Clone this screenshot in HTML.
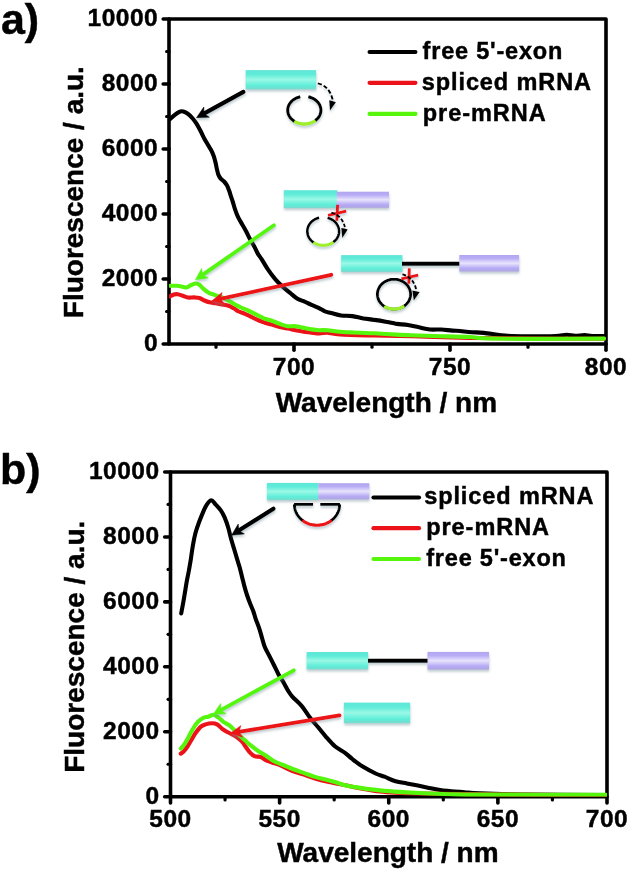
<!DOCTYPE html>
<html><head><meta charset="utf-8"><style>
html,body{margin:0;padding:0;background:#fff;}
svg{display:block;will-change:transform;}
text{font-family:"Liberation Sans", sans-serif;font-weight:bold;fill:#000;stroke:#000;stroke-width:0.45px;}
.tk{font-size:24.5px;letter-spacing:0.5px;}
.ti{font-size:28px;}
.pl{font-size:43px;}
.lg{font-size:23.5px;letter-spacing:0.9px;}
</style></head><body>
<svg width="629" height="871" viewBox="0 0 629 871">
<defs>
<linearGradient id="gc" x1="0" y1="0" x2="0" y2="1">
<stop offset="0" stop-color="#60e6d8"/><stop offset="0.22" stop-color="#5eecd8"/><stop offset="0.5" stop-color="#9af8e6"/><stop offset="0.8" stop-color="#5eeed8"/><stop offset="1" stop-color="#78dacf"/>
</linearGradient>
<linearGradient id="gp" x1="0" y1="0" x2="0" y2="1">
<stop offset="0" stop-color="#b0a6ee"/><stop offset="0.2" stop-color="#b8acf6"/><stop offset="0.5" stop-color="#e8e4fc"/><stop offset="0.8" stop-color="#b6aaf6"/><stop offset="1" stop-color="#aca6e2"/>
</linearGradient>
<filter id="sh" x="-20%" y="-20%" width="140%" height="160%">
<feDropShadow dx="0.3" dy="2.2" stdDeviation="1.2" flood-color="#6a8690" flood-opacity="0.42"/>
</filter>
<clipPath id="clipA"><rect x="169" y="19" width="437" height="325"/></clipPath>
<clipPath id="clipB"><rect x="170.5" y="472" width="436.5" height="324.7"/></clipPath>
</defs>
<rect width="629" height="871" fill="#fff"/>
<path d="M169,19 H606 V344 H169 Z" fill="none" stroke="#000" stroke-width="3.6" stroke-linejoin="round"/>
<line x1="163.2" y1="344.00" x2="169" y2="344.00" stroke="#000" stroke-width="3.6" stroke-linecap="round"/>
<line x1="163.2" y1="279.00" x2="169" y2="279.00" stroke="#000" stroke-width="3.6" stroke-linecap="round"/>
<line x1="163.2" y1="214.00" x2="169" y2="214.00" stroke="#000" stroke-width="3.6" stroke-linecap="round"/>
<line x1="163.2" y1="149.00" x2="169" y2="149.00" stroke="#000" stroke-width="3.6" stroke-linecap="round"/>
<line x1="163.2" y1="84.00" x2="169" y2="84.00" stroke="#000" stroke-width="3.6" stroke-linecap="round"/>
<line x1="163.2" y1="19.00" x2="169" y2="19.00" stroke="#000" stroke-width="3.6" stroke-linecap="round"/>
<line x1="166.6" y1="311.50" x2="169" y2="311.50" stroke="#000" stroke-width="3.2" stroke-linecap="round"/>
<line x1="166.6" y1="246.50" x2="169" y2="246.50" stroke="#000" stroke-width="3.2" stroke-linecap="round"/>
<line x1="166.6" y1="181.50" x2="169" y2="181.50" stroke="#000" stroke-width="3.2" stroke-linecap="round"/>
<line x1="166.6" y1="116.50" x2="169" y2="116.50" stroke="#000" stroke-width="3.2" stroke-linecap="round"/>
<line x1="166.6" y1="51.50" x2="169" y2="51.50" stroke="#000" stroke-width="3.2" stroke-linecap="round"/>
<line x1="294.00" y1="344" x2="294.00" y2="350.3" stroke="#000" stroke-width="3.6" stroke-linecap="round"/>
<line x1="450.00" y1="344" x2="450.00" y2="350.3" stroke="#000" stroke-width="3.6" stroke-linecap="round"/>
<line x1="606.00" y1="344" x2="606.00" y2="350.3" stroke="#000" stroke-width="3.6" stroke-linecap="round"/>
<line x1="216.00" y1="344" x2="216.00" y2="347.2" stroke="#000" stroke-width="3.2" stroke-linecap="round"/>
<line x1="372.00" y1="344" x2="372.00" y2="347.2" stroke="#000" stroke-width="3.2" stroke-linecap="round"/>
<line x1="528.00" y1="344" x2="528.00" y2="347.2" stroke="#000" stroke-width="3.2" stroke-linecap="round"/>
<text x="158.2" y="351.40" text-anchor="end" class="tk">0</text>
<text x="158.2" y="286.40" text-anchor="end" class="tk">2000</text>
<text x="158.2" y="221.40" text-anchor="end" class="tk">4000</text>
<text x="158.2" y="156.40" text-anchor="end" class="tk">6000</text>
<text x="158.2" y="91.40" text-anchor="end" class="tk">8000</text>
<text x="158.2" y="26.40" text-anchor="end" class="tk">10000</text>
<text x="294.00" y="374.7" text-anchor="middle" class="tk">700</text>
<text x="450.00" y="374.7" text-anchor="middle" class="tk">750</text>
<text x="606.00" y="374.7" text-anchor="middle" class="tk">800</text>
<text x="275.7" y="412" class="ti">Wavelength / nm</text>
<text transform="translate(82.9,318.2) rotate(-90)" class="ti">Fluorescence / a.u.</text>
<text x="0.9" y="33.5" class="pl">a)</text>
<line x1="369.6" y1="52" x2="415.4" y2="52" stroke="#000" stroke-width="4.2" stroke-linecap="round"/>
<text x="422.6" y="58.7" class="lg" style="letter-spacing:0.8px">free 5'-exon</text>
<line x1="369.6" y1="82.8" x2="415.4" y2="82.8" stroke="#ec1219" stroke-width="4.2" stroke-linecap="round"/>
<text x="421.8" y="89.7" class="lg" style="letter-spacing:0.9px">spliced mRNA</text>
<line x1="369.6" y1="113.9" x2="415.4" y2="113.9" stroke="#55f60c" stroke-width="4.2" stroke-linecap="round"/>
<text x="422.8" y="120.8" class="lg" style="letter-spacing:0.95px">pre-mRNA</text>
<path d="M170.5,472 H607 V796.7 H170.5 Z" fill="none" stroke="#000" stroke-width="3.6" stroke-linejoin="round"/>
<line x1="164.7" y1="796.70" x2="170.5" y2="796.70" stroke="#000" stroke-width="3.6" stroke-linecap="round"/>
<line x1="164.7" y1="731.76" x2="170.5" y2="731.76" stroke="#000" stroke-width="3.6" stroke-linecap="round"/>
<line x1="164.7" y1="666.82" x2="170.5" y2="666.82" stroke="#000" stroke-width="3.6" stroke-linecap="round"/>
<line x1="164.7" y1="601.88" x2="170.5" y2="601.88" stroke="#000" stroke-width="3.6" stroke-linecap="round"/>
<line x1="164.7" y1="536.94" x2="170.5" y2="536.94" stroke="#000" stroke-width="3.6" stroke-linecap="round"/>
<line x1="164.7" y1="472.00" x2="170.5" y2="472.00" stroke="#000" stroke-width="3.6" stroke-linecap="round"/>
<line x1="168.1" y1="764.23" x2="170.5" y2="764.23" stroke="#000" stroke-width="3.2" stroke-linecap="round"/>
<line x1="168.1" y1="699.29" x2="170.5" y2="699.29" stroke="#000" stroke-width="3.2" stroke-linecap="round"/>
<line x1="168.1" y1="634.35" x2="170.5" y2="634.35" stroke="#000" stroke-width="3.2" stroke-linecap="round"/>
<line x1="168.1" y1="569.41" x2="170.5" y2="569.41" stroke="#000" stroke-width="3.2" stroke-linecap="round"/>
<line x1="168.1" y1="504.47" x2="170.5" y2="504.47" stroke="#000" stroke-width="3.2" stroke-linecap="round"/>
<line x1="170.50" y1="796.7" x2="170.50" y2="803.0" stroke="#000" stroke-width="3.6" stroke-linecap="round"/>
<line x1="279.62" y1="796.7" x2="279.62" y2="803.0" stroke="#000" stroke-width="3.6" stroke-linecap="round"/>
<line x1="388.75" y1="796.7" x2="388.75" y2="803.0" stroke="#000" stroke-width="3.6" stroke-linecap="round"/>
<line x1="497.88" y1="796.7" x2="497.88" y2="803.0" stroke="#000" stroke-width="3.6" stroke-linecap="round"/>
<line x1="607.00" y1="796.7" x2="607.00" y2="803.0" stroke="#000" stroke-width="3.6" stroke-linecap="round"/>
<line x1="225.06" y1="796.7" x2="225.06" y2="799.9000000000001" stroke="#000" stroke-width="3.2" stroke-linecap="round"/>
<line x1="334.19" y1="796.7" x2="334.19" y2="799.9000000000001" stroke="#000" stroke-width="3.2" stroke-linecap="round"/>
<line x1="443.31" y1="796.7" x2="443.31" y2="799.9000000000001" stroke="#000" stroke-width="3.2" stroke-linecap="round"/>
<line x1="552.44" y1="796.7" x2="552.44" y2="799.9000000000001" stroke="#000" stroke-width="3.2" stroke-linecap="round"/>
<text x="159.6" y="803.70" text-anchor="end" class="tk">0</text>
<text x="159.6" y="738.76" text-anchor="end" class="tk">2000</text>
<text x="159.6" y="673.82" text-anchor="end" class="tk">4000</text>
<text x="159.6" y="608.88" text-anchor="end" class="tk">6000</text>
<text x="159.6" y="543.94" text-anchor="end" class="tk">8000</text>
<text x="159.6" y="479.00" text-anchor="end" class="tk">10000</text>
<text x="170.50" y="827" text-anchor="middle" class="tk">500</text>
<text x="279.62" y="827" text-anchor="middle" class="tk">550</text>
<text x="388.75" y="827" text-anchor="middle" class="tk">600</text>
<text x="497.88" y="827" text-anchor="middle" class="tk">650</text>
<text x="607.00" y="827" text-anchor="middle" class="tk">700</text>
<text x="277.2" y="862.3" class="ti">Wavelength / nm</text>
<text transform="translate(84,772.8) rotate(-90)" class="ti">Fluorescence / a.u.</text>
<text x="-0.1" y="483.5" class="pl">b)</text>
<line x1="373.5" y1="497.5" x2="419" y2="497.5" stroke="#000" stroke-width="4.2" stroke-linecap="round"/>
<text x="424.2" y="504" class="lg" style="letter-spacing:0.9px">spliced mRNA</text>
<line x1="373.5" y1="528.2" x2="419" y2="528.2" stroke="#ec1219" stroke-width="4.2" stroke-linecap="round"/>
<text x="426.2" y="535.1" class="lg" style="letter-spacing:0.95px">pre-mRNA</text>
<line x1="373.5" y1="559" x2="419" y2="559" stroke="#55f60c" stroke-width="4.2" stroke-linecap="round"/>
<text x="426.2" y="566.2" class="lg" style="letter-spacing:0.8px">free 5'-exon</text>
<g clip-path="url(#clipA)">
<path d="M169.8,119.2 C170.6,118.5 173.1,116.2 174.5,115.1 C175.9,113.9 177.2,112.9 178.4,112.3 C179.6,111.7 180.6,111.2 181.7,111.2 C182.8,111.2 183.8,111.5 185.0,112.1 C186.2,112.7 187.6,113.5 188.9,114.6 C190.2,115.7 191.4,117.0 192.7,118.5 C194.0,120.0 195.2,121.7 196.5,123.7 C197.8,125.7 199.0,128.1 200.3,130.5 C201.6,132.9 202.8,135.8 204.1,138.2 C205.4,140.6 206.8,142.9 207.9,144.8 C209.0,146.7 209.9,147.8 210.8,149.6 C211.8,151.4 212.8,153.6 213.6,155.7 C214.4,157.8 214.9,160.2 215.5,162.4 C216.1,164.6 216.4,167.0 216.9,169.1 C217.4,171.2 217.8,173.2 218.4,174.8 C219.0,176.4 219.8,177.5 220.7,178.6 C221.6,179.7 223.1,180.4 224.1,181.5 C225.1,182.6 226.1,183.9 226.9,185.3 C227.7,186.7 228.2,188.3 228.9,190.1 C229.6,191.8 230.2,193.9 230.8,195.8 C231.4,197.7 232.0,199.4 232.7,201.5 C233.4,203.6 233.9,206.0 234.8,208.6 C235.7,211.2 236.8,214.5 238.1,217.2 C239.4,219.9 241.1,222.4 242.4,224.8 C243.8,227.2 244.9,229.1 246.2,231.5 C247.5,233.9 248.7,236.7 250.0,239.1 C251.3,241.5 252.6,243.4 253.9,245.8 C255.2,248.2 256.4,251.2 257.7,253.4 C258.9,255.6 259.7,256.3 261.4,258.9 C263.1,261.5 265.4,265.7 267.7,269.1 C270.0,272.5 272.8,276.3 275.4,279.3 C277.9,282.3 280.5,284.6 283.0,286.9 C285.5,289.2 288.2,291.3 290.6,293.3 C293.0,295.3 295.2,297.4 297.5,298.8 C299.8,300.2 302.4,300.7 304.6,301.7 C306.9,302.7 308.7,303.7 311.0,304.7 C313.3,305.7 316.3,306.8 318.6,307.9 C320.9,309.0 322.9,310.5 325.0,311.4 C327.1,312.2 328.6,312.3 331.3,313.0 C334.0,313.7 337.6,315.0 341.1,315.5 C344.6,316.0 348.6,315.6 352.3,316.1 C356.0,316.6 359.7,317.8 363.4,318.4 C367.1,319.0 370.8,319.3 374.5,319.9 C378.2,320.4 381.9,321.0 385.6,321.7 C389.3,322.4 393.1,323.3 396.8,323.9 C400.5,324.4 404.2,324.4 407.9,325.0 C411.6,325.6 415.3,326.6 419.0,327.3 C422.7,328.1 426.5,329.1 430.2,329.5 C433.9,329.9 437.6,329.3 441.3,329.5 C445.0,329.7 449.3,330.4 452.4,330.6 C455.5,330.9 456.8,330.7 460.0,331.0 C463.2,331.3 467.9,331.9 471.9,332.2 C475.9,332.5 477.8,332.3 483.8,332.9 C489.8,333.5 499.8,335.2 507.7,335.8 C515.6,336.4 523.5,336.3 531.5,336.3 C539.5,336.3 549.5,336.2 555.4,336.0 C561.3,335.8 563.4,334.8 566.7,334.8 C570.0,334.8 572.0,335.8 575.0,335.9 C578.0,335.9 581.7,335.1 584.5,335.1 C587.3,335.1 588.8,335.9 592.0,336.0 C595.2,336.1 602.0,336.0 604.0,336.0" fill="none" stroke="#000" stroke-width="4.1" stroke-linejoin="round" stroke-linecap="round"/>
<path d="M170.1,296.4 C170.7,296.1 172.6,294.9 173.9,294.5 C175.2,294.1 176.2,294.0 177.7,294.2 C179.2,294.4 181.1,295.2 182.8,295.8 C184.5,296.4 186.0,297.2 187.9,297.5 C189.8,297.8 192.4,297.3 194.3,297.4 C196.2,297.5 197.7,297.5 199.4,298.0 C201.1,298.5 202.7,299.8 204.4,300.5 C206.1,301.2 207.6,301.8 209.5,302.3 C211.4,302.8 213.8,302.9 215.9,303.3 C218.0,303.7 220.2,304.1 222.3,304.5 C224.4,304.9 226.7,305.2 228.6,305.8 C230.5,306.4 232.0,307.4 233.7,308.3 C235.4,309.2 236.9,310.6 238.8,311.5 C240.7,312.4 243.5,313.2 245.0,313.8 C246.5,314.4 246.1,314.2 247.9,315.1 C249.7,316.0 253.2,317.9 255.9,319.1 C258.6,320.3 261.2,321.4 263.8,322.3 C266.4,323.2 269.2,323.8 271.8,324.6 C274.4,325.4 277.1,326.3 279.7,327.0 C282.3,327.7 285.0,328.1 287.7,328.6 C290.4,329.1 293.0,329.7 295.6,330.2 C298.2,330.7 301.0,331.4 303.6,331.8 C306.2,332.2 308.9,332.3 311.5,332.6 C314.1,332.9 316.9,333.4 319.5,333.4 C322.1,333.4 324.0,332.4 327.4,332.6 C330.8,332.8 332.2,334.0 340.0,334.5 C347.8,335.0 360.7,335.2 374.0,335.5 C387.3,335.8 404.0,336.1 420.0,336.5 C436.0,336.9 439.3,337.6 470.0,338.0 C500.7,338.4 581.7,338.7 604.0,338.8" fill="none" stroke="#ec1219" stroke-width="4.1" stroke-linejoin="round" stroke-linecap="round"/>
<path d="M170.1,285.8 C171.2,285.8 174.6,285.7 176.5,285.8 C178.4,285.9 179.8,286.1 181.5,286.4 C183.2,286.7 185.1,287.7 186.6,287.5 C188.1,287.3 188.9,286.1 190.4,285.4 C191.9,284.7 194.0,283.6 195.5,283.5 C197.0,283.4 198.1,283.9 199.4,284.8 C200.7,285.7 201.7,287.3 203.2,288.6 C204.7,289.9 206.6,291.4 208.3,292.4 C210.0,293.4 211.6,293.8 213.3,294.4 C215.0,295.0 216.7,295.7 218.4,296.3 C220.1,296.9 221.8,297.5 223.5,298.2 C225.2,298.9 226.7,299.6 228.6,300.7 C230.5,301.8 233.1,303.4 235.0,304.5 C236.9,305.6 237.8,306.0 240.0,307.0 C242.2,308.0 245.2,309.1 247.9,310.3 C250.6,311.5 253.2,313.0 255.9,314.3 C258.6,315.6 261.2,317.2 263.8,318.3 C266.4,319.4 269.2,319.8 271.8,320.7 C274.4,321.6 277.1,322.9 279.7,323.8 C282.3,324.7 285.0,325.8 287.7,326.2 C290.4,326.6 293.0,325.9 295.6,326.2 C298.2,326.5 301.0,327.3 303.6,327.8 C306.2,328.3 308.9,329.0 311.5,329.4 C314.1,329.8 316.9,330.1 319.5,330.2 C322.1,330.3 324.0,329.9 327.4,330.2 C330.8,330.5 335.9,331.4 340.0,331.8 C344.1,332.2 346.6,332.1 352.3,332.4 C358.1,332.6 367.1,332.9 374.5,333.3 C381.9,333.7 389.4,334.2 396.8,334.6 C404.2,335.0 411.6,335.2 419.0,335.5 C426.4,335.8 432.8,335.9 441.3,336.2 C449.8,336.4 462.9,336.6 470.0,337.0 C477.1,337.4 473.6,338.0 483.8,338.3 C494.1,338.6 511.5,338.8 531.5,338.9 C551.5,338.9 591.9,338.7 604.0,338.6" fill="none" stroke="#55f60c" stroke-width="4.1" stroke-linejoin="round" stroke-linecap="round"/>
</g>
<g clip-path="url(#clipB)">
<path d="M181.2,613.4 C181.7,610.9 183.1,603.3 184.0,598.2 C184.9,593.1 185.7,587.6 186.5,582.9 C187.3,578.2 188.3,574.0 189.0,570.0 C189.7,566.0 190.3,562.7 190.9,558.7 C191.5,554.7 192.1,550.2 192.8,546.0 C193.6,541.8 194.3,537.3 195.4,533.3 C196.5,529.3 197.9,525.3 199.2,521.8 C200.5,518.3 201.7,515.2 203.0,512.3 C204.3,509.4 205.4,506.6 206.8,504.6 C208.2,502.6 209.8,500.2 211.3,500.2 C212.8,500.2 214.1,502.9 215.7,504.6 C217.3,506.3 219.3,508.3 220.8,510.4 C222.3,512.5 223.3,514.4 224.6,517.4 C225.9,520.4 227.3,524.4 228.4,528.2 C229.5,532.0 230.4,536.5 231.4,540.0 C232.4,543.5 233.3,546.2 234.2,549.2 C235.1,552.2 236.0,555.2 236.9,558.3 C237.8,561.3 238.8,564.4 239.7,567.5 C240.5,570.6 241.2,573.6 242.0,576.7 C242.8,579.8 243.5,582.9 244.3,585.9 C245.1,588.9 246.0,592.0 247.0,595.0 C248.0,598.0 249.1,601.0 250.2,603.8 C251.3,606.5 252.5,608.9 253.4,611.5 C254.3,614.1 254.8,616.4 255.8,619.2 C256.8,622.0 258.2,625.2 259.2,628.3 C260.2,631.3 261.0,634.4 261.9,637.5 C262.8,640.6 263.5,643.6 264.7,646.7 C265.9,649.8 267.8,652.9 269.3,655.9 C270.8,658.9 272.4,662.0 273.9,665.0 C275.4,668.0 276.9,671.4 278.4,674.2 C279.9,677.0 281.5,679.0 283.0,681.6 C284.5,684.2 286.1,687.4 287.6,689.9 C289.2,692.4 289.9,693.9 292.3,696.6 C294.7,699.3 298.9,702.7 301.8,706.1 C304.7,709.5 307.1,713.8 309.7,717.2 C312.3,720.7 315.0,723.6 317.7,726.8 C320.4,730.0 322.7,733.0 325.6,736.3 C328.5,739.6 332.0,743.8 335.2,746.5 C338.4,749.2 341.8,750.5 344.7,752.6 C347.6,754.7 349.4,756.7 352.3,759.0 C355.2,761.3 358.4,763.9 362.3,766.3 C366.2,768.7 371.9,771.8 375.6,773.5 C379.3,775.2 381.2,775.4 384.5,776.7 C387.8,778.0 391.9,780.1 395.6,781.2 C399.3,782.3 403.1,782.7 406.8,783.4 C410.5,784.1 414.2,784.9 417.9,785.6 C421.6,786.4 425.3,787.1 429.0,787.9 C432.7,788.6 436.5,789.5 440.2,790.1 C443.9,790.7 447.2,790.8 451.3,791.2 C455.4,791.6 459.8,791.9 464.6,792.3 C469.4,792.7 470.8,793.0 480.0,793.4 C489.2,793.8 499.0,794.2 520.0,794.5 C541.0,794.8 591.7,794.9 606.0,795.0" fill="none" stroke="#000" stroke-width="4.1" stroke-linejoin="round" stroke-linecap="round"/>
<path d="M180.8,753.6 C181.3,753.2 182.8,752.4 184.0,751.1 C185.2,749.8 186.5,747.9 187.8,746.0 C189.1,744.1 190.3,741.7 191.6,739.6 C192.9,737.5 193.9,735.4 195.4,733.3 C196.9,731.2 198.8,728.4 200.5,726.9 C202.2,725.4 203.7,725.0 205.6,724.4 C207.5,723.8 210.1,723.3 212.0,723.3 C213.9,723.3 215.4,723.5 217.1,724.4 C218.8,725.3 220.5,727.5 222.2,728.8 C223.9,730.1 225.6,731.0 227.3,732.0 C229.0,733.0 230.6,733.5 232.3,734.5 C234.0,735.5 235.7,736.4 237.4,737.7 C239.1,739.0 241.2,740.7 242.5,742.2 C243.8,743.7 244.3,744.8 245.5,746.5 C246.7,748.2 248.3,750.7 249.8,752.3 C251.3,753.9 252.7,755.4 254.5,756.2 C256.4,757.0 259.0,756.3 260.9,757.0 C262.8,757.7 263.8,759.3 265.7,760.2 C267.6,761.1 269.4,761.6 272.0,762.5 C274.6,763.4 278.2,764.3 281.6,765.8 C285.1,767.2 289.0,769.8 292.7,771.2 C296.4,772.7 300.1,773.3 303.8,774.5 C307.5,775.7 311.0,777.3 315.0,778.5 C319.0,779.7 323.5,780.8 327.7,781.7 C331.9,782.7 332.8,782.7 340.4,784.2 C348.0,785.7 360.1,789.1 373.4,790.6 C386.7,792.1 381.2,792.7 420.0,793.5 C458.8,794.3 575.0,795.2 606.0,795.5" fill="none" stroke="#ec1219" stroke-width="4.1" stroke-linejoin="round" stroke-linecap="round"/>
<path d="M180.8,748.5 C181.3,747.9 182.9,746.2 184.0,744.7 C185.1,743.2 186.1,741.5 187.2,739.6 C188.3,737.7 189.2,735.4 190.4,733.3 C191.6,731.2 192.9,728.8 194.2,726.9 C195.5,725.0 196.5,723.3 198.0,721.8 C199.5,720.3 201.4,718.9 203.1,718.0 C204.8,717.1 206.5,717.2 208.2,716.7 C209.9,716.2 211.6,714.7 213.3,714.8 C215.0,714.9 216.6,716.2 218.3,717.4 C220.0,718.6 221.5,720.4 223.4,721.8 C225.3,723.2 227.9,724.1 229.8,725.6 C231.7,727.1 233.0,728.8 234.9,730.7 C236.8,732.6 239.5,735.5 241.2,737.1 C242.9,738.7 243.3,738.8 245.0,740.3 C246.7,741.8 249.3,744.2 251.4,745.9 C253.5,747.6 255.3,749.1 257.7,750.7 C260.1,752.3 263.0,753.7 265.7,755.4 C268.4,757.1 270.7,759.4 273.6,761.0 C276.5,762.6 280.0,763.7 283.2,765.0 C286.4,766.3 289.3,767.7 292.7,769.0 C296.1,770.3 300.1,771.6 303.8,772.9 C307.5,774.2 311.6,775.8 315.0,776.9 C318.4,778.0 321.3,778.5 324.5,779.3 C327.7,780.1 330.6,780.7 334.0,781.7 C337.4,782.7 341.8,784.4 345.0,785.2 C348.2,786.1 349.8,786.2 353.4,786.8 C357.0,787.4 361.5,788.2 366.7,788.9 C371.9,789.6 377.8,790.3 384.5,790.9 C391.2,791.5 399.4,792.0 406.8,792.4 C414.2,792.8 421.6,793.2 429.0,793.5 C436.4,793.8 442.8,794.0 451.3,794.2 C459.8,794.4 454.2,794.5 480.0,794.6 C505.8,794.7 585.0,794.8 606.0,794.8" fill="none" stroke="#55f60c" stroke-width="4.1" stroke-linejoin="round" stroke-linecap="round"/>
</g>
<g filter="url(#sh)">
<rect x="245.7" y="70.1" width="70.4" height="19.3" fill="url(#gc)"/>
<rect x="283.8" y="190.2" width="53.5" height="17.9" fill="url(#gc)"/>
<rect x="336.7" y="191.7" width="52.3" height="16.1" fill="url(#gp)"/>
<rect x="341.1" y="255.1" width="61.3" height="16.8" fill="url(#gc)"/>
<line x1="402" y1="263.8" x2="461" y2="263.8" stroke="#000" stroke-width="4"/>
<rect x="459.3" y="255" width="59.8" height="16.5" fill="url(#gp)"/>
<rect x="266.9" y="482.9" width="51.4" height="17.2" fill="url(#gc)"/>
<rect x="318.3" y="483.2" width="51.0" height="16.2" fill="url(#gp)"/>
<rect x="306.6" y="652" width="61.5" height="17.4" fill="url(#gc)"/>
<line x1="368" y1="660.8" x2="428" y2="660.8" stroke="#000" stroke-width="4"/>
<rect x="427.5" y="651.9" width="61.5" height="17.7" fill="url(#gp)"/>
<rect x="343.9" y="702.6" width="66.2" height="20.6" fill="url(#gc)"/>
</g>
<g filter="url(#sh)">

<path d="M308.32,96.81 L309.19,97.01 L310.06,97.26 L310.91,97.54 L311.73,97.86 L312.54,98.22 L313.32,98.61 L314.07,99.04 L314.79,99.51 L315.48,100.00 L316.14,100.53 L316.76,101.08 L317.35,101.67 L317.89,102.27 L318.39,102.91 L318.85,103.56 L319.27,104.24 L319.64,104.93 L319.97,105.64 L320.24,106.36 L320.47,107.10 L320.66,107.84 L320.79,108.59 L320.87,109.35 L320.90,110.10 L320.88,110.86 L320.81,111.62 L320.69,112.37 L320.53,113.12 L320.31,113.85 L320.04,114.58 L319.73,115.29 L319.37,115.99 L318.96,116.67 L318.51,117.33 L318.02,117.97 L317.49,118.58 L316.91,119.17 L316.30,119.73 L315.65,120.27 L314.97,120.77" fill="none" stroke="#000" stroke-width="2.9" stroke-linecap="butt"/>
<path d="M294.78,121.50 L294.02,121.03 L293.29,120.53 L292.60,119.99 L291.94,119.42 L291.33,118.81 L290.76,118.18 L290.23,117.53 L289.75,116.85 L289.32,116.15 L288.94,115.43 L288.60,114.69 L288.32,113.93 L288.09,113.17 L287.91,112.39 L287.79,111.61 L287.72,110.83 L287.70,110.04 L287.74,109.25 L287.83,108.46 L287.98,107.69 L288.18,106.91 L288.43,106.15 L288.73,105.41 L289.09,104.68 L289.49,103.96 L289.95,103.27 L290.45,102.60 L290.99,101.95 L291.58,101.33 L292.21,100.74 L292.88,100.19 L293.59,99.66 L294.33,99.17 L295.10,98.71 L295.91,98.29 L296.74,97.92 L297.59,97.58 L298.47,97.28 L299.37,97.02 L300.28,96.81" fill="none" stroke="#000" stroke-width="2.9" stroke-linecap="butt"/>
<path d="M315.41,120.46 L314.98,120.77 L314.53,121.07 L314.07,121.35 L313.61,121.63 L313.13,121.89 L312.64,122.13 L312.14,122.36 L311.63,122.58 L311.11,122.78 L310.59,122.97 L310.05,123.14 L309.51,123.30 L308.97,123.44 L308.41,123.57 L307.86,123.68 L307.30,123.77 L306.73,123.85 L306.16,123.91 L305.60,123.96 L305.02,123.99 L304.45,124.00 L303.88,124.00 L303.31,123.98 L302.74,123.94 L302.17,123.89 L301.60,123.82 L301.04,123.73 L300.48,123.63 L299.93,123.51 L299.38,123.38 L298.83,123.23 L298.30,123.07 L297.77,122.89 L297.25,122.69 L296.73,122.48 L296.23,122.26 L295.73,122.02 L295.25,121.77 L294.77,121.50 L294.31,121.22" fill="none" stroke="#9cef2a" stroke-width="3.3" stroke-linecap="butt"/>
<path d="M317.8,83.3 Q329.5,86.2 332.6,99.5" fill="none" stroke="#000" stroke-width="1.9" stroke-dasharray="4.2,2.1"/>
<path d="M329.2,100.3 L332.4,100.9 L335.9,102.3 L330,110.6 Z" fill="#000"/>
<path d="M327.58,217.84 L328.42,218.07 L329.23,218.35 L330.03,218.66 L330.81,219.01 L331.57,219.40 L332.30,219.82 L333.00,220.28 L333.67,220.77 L334.31,221.29 L334.92,221.84 L335.50,222.42 L336.03,223.03 L336.53,223.66 L336.98,224.32 L337.40,225.00 L337.77,225.70 L338.10,226.41 L338.38,227.14 L338.62,227.88 L338.81,228.63 L338.95,229.39 L339.05,230.15 L339.09,230.92 L339.09,231.69 L339.05,232.46 L338.95,233.22 L338.81,233.98 L338.61,234.73 L338.38,235.47 L338.09,236.20 L337.76,236.92 L337.39,237.61 L336.98,238.29 L336.52,238.95 L336.02,239.58 L335.49,240.19 L334.91,240.77 L334.30,241.32 L333.66,241.84 L332.99,242.33" fill="none" stroke="#000" stroke-width="2.5" stroke-linecap="butt"/>
<path d="M314.08,242.77 L313.36,242.29 L312.66,241.79 L312.01,241.24 L311.38,240.67 L310.80,240.06 L310.26,239.43 L309.75,238.77 L309.29,238.09 L308.88,237.38 L308.51,236.66 L308.19,235.92 L307.92,235.16 L307.69,234.39 L307.52,233.61 L307.39,232.82 L307.32,232.03 L307.30,231.24 L307.33,230.45 L307.41,229.65 L307.54,228.87 L307.72,228.09 L307.95,227.32 L308.24,226.57 L308.56,225.83 L308.94,225.11 L309.36,224.41 L309.83,223.73 L310.34,223.07 L310.89,222.44 L311.48,221.84 L312.11,221.27 L312.77,220.73 L313.47,220.23 L314.19,219.76 L314.95,219.33 L315.74,218.94 L316.54,218.59 L317.37,218.27 L318.22,218.00 L319.08,217.78" fill="none" stroke="#000" stroke-width="2.5" stroke-linecap="butt"/>
<path d="M333.42,242.02 L333.00,242.32 L332.57,242.61 L332.13,242.89 L331.67,243.15 L331.21,243.39 L330.74,243.63 L330.26,243.85 L329.77,244.05 L329.27,244.24 L328.77,244.41 L328.26,244.57 L327.74,244.72 L327.22,244.84 L326.70,244.96 L326.17,245.05 L325.63,245.14 L325.10,245.20 L324.56,245.25 L324.02,245.28 L323.48,245.30 L322.94,245.30 L322.40,245.28 L321.86,245.25 L321.32,245.20 L320.78,245.14 L320.25,245.06 L319.72,244.96 L319.19,244.85 L318.67,244.72 L318.15,244.58 L317.64,244.42 L317.14,244.24 L316.64,244.05 L316.16,243.85 L315.67,243.63 L315.20,243.40 L314.74,243.15 L314.29,242.89 L313.84,242.62 L313.41,242.33" fill="none" stroke="#9cef2a" stroke-width="3.0" stroke-linecap="butt"/>
<path d="M328,215.3 L346.2,211.1 M337.6,204.9 L336.8,220.7" stroke="#ec1219" stroke-width="2.8" fill="none"/>
<path d="M331.4,212.6 Q342,215.5 344.9,227" fill="none" stroke="#000" stroke-width="1.9" stroke-dasharray="3.8,2"/>
<path d="M341.3,228.1 L344.5,228.6 L347.7,229.6 L342.3,238 Z" fill="#000"/>
<path d="M410.60,294.20 L410.55,295.37 L410.40,296.53 L410.14,297.68 L409.79,298.80 L409.34,299.90 L408.79,300.96 L408.15,301.99 L407.43,302.96 L406.62,303.88 L405.74,304.74 L404.78,305.53 L403.76,306.25 L402.67,306.90 L401.54,307.48 L400.35,307.97 L399.13,308.37 L397.88,308.69 L396.60,308.92 L395.30,309.05 L394.00,309.10 L392.70,309.05 L391.40,308.92 L390.12,308.69 L388.87,308.37 L387.65,307.97 L386.46,307.48 L385.33,306.90 L384.24,306.25 L383.22,305.53 L382.26,304.74 L381.38,303.88 L380.57,302.96 L379.85,301.99 L379.21,300.96 L378.66,299.90 L378.21,298.80 L377.86,297.68 L377.60,296.53 L377.45,295.37 L377.40,294.20 L377.45,293.03 L377.60,291.87 L377.86,290.72 L378.21,289.60 L378.66,288.50 L379.21,287.44 L379.85,286.41 L380.57,285.44 L381.38,284.52 L382.26,283.66 L383.22,282.87 L384.24,282.15 L385.33,281.50 L386.46,280.92 L387.65,280.43 L388.87,280.03 L390.12,279.71 L391.40,279.48 L392.70,279.35 L394.00,279.30 L395.30,279.35 L396.60,279.48 L397.88,279.71 L399.13,280.03 L400.35,280.43 L401.54,280.92 L402.67,281.50 L403.76,282.15 L404.78,282.87 L405.74,283.66 L406.62,284.52 L407.43,285.44 L408.15,286.41 L408.79,287.44 L409.34,288.50 L409.79,289.60 L410.14,290.72 L410.40,291.87 L410.55,293.03 L410.60,294.20" fill="none" stroke="#000" stroke-width="2.8" stroke-linecap="butt"/>
<path d="M404.22,305.94 L403.79,306.23 L403.35,306.51 L402.91,306.77 L402.45,307.03 L401.98,307.26 L401.51,307.49 L401.03,307.70 L400.54,307.90 L400.04,308.08 L399.54,308.25 L399.03,308.40 L398.52,308.54 L398.00,308.66 L397.48,308.77 L396.95,308.86 L396.42,308.94 L395.89,309.00 L395.36,309.05 L394.83,309.08 L394.29,309.10 L393.75,309.10 L393.22,309.08 L392.68,309.05 L392.15,309.01 L391.62,308.95 L391.09,308.87 L390.56,308.78 L390.04,308.67 L389.52,308.55 L389.01,308.41 L388.50,308.26 L388.00,308.09 L387.50,307.91 L387.01,307.71 L386.53,307.51 L386.05,307.28 L385.59,307.04 L385.13,306.79 L384.68,306.53 L384.24,306.25" fill="none" stroke="#9cef2a" stroke-width="3.2" stroke-linecap="butt"/>
<path d="M401.4,278.8 L418.2,275.1 M409.3,268.4 L408.8,283.7" stroke="#ec1219" stroke-width="2.8" fill="none"/>
<path d="M402.4,274.3 Q413.2,277.2 416.2,289.5" fill="none" stroke="#000" stroke-width="1.9" stroke-dasharray="3.8,2"/>
<path d="M412.3,290.6 L416,291.2 L419.7,292.1 L413.8,300.5 Z" fill="#000"/>
<path d="M294.1,504.4 H313.1 M320.3,504.4 H339.9" stroke="#000" stroke-width="2.8" fill="none"/>
<path d="M339.60,504.40 L339.59,504.87 L339.58,505.34 L339.55,505.81 L339.51,506.29 L339.45,506.75 L339.39,507.22 L339.32,507.69 L339.23,508.15 L339.13,508.62 L339.02,509.08 L338.90,509.54 L338.77,509.99 L338.62,510.45 L338.47,510.90 L338.30,511.34 L338.13,511.79 L337.94,512.23 L337.74,512.66 L337.53,513.09 L337.31,513.52 L337.08,513.94 L336.84,514.36 L336.59,514.77 L336.33,515.17 L336.06,515.58 L335.78,515.97 L335.49,516.36 L335.19,516.74 L334.88,517.12 L334.56,517.49 L334.24,517.85 L333.90,518.21 L333.56,518.56 L333.20,518.90 L332.84,519.24 L332.47,519.56 L332.09,519.88 L331.71,520.19 L331.31,520.50 L330.91,520.79" fill="none" stroke="#000" stroke-width="2.8" stroke-linecap="butt"/>
<path d="M303.09,520.79 L302.69,520.50 L302.29,520.19 L301.91,519.88 L301.53,519.56 L301.16,519.24 L300.80,518.90 L300.44,518.56 L300.10,518.21 L299.76,517.85 L299.44,517.49 L299.12,517.12 L298.81,516.74 L298.51,516.36 L298.22,515.97 L297.94,515.58 L297.67,515.17 L297.41,514.77 L297.16,514.36 L296.92,513.94 L296.69,513.52 L296.47,513.09 L296.26,512.66 L296.06,512.23 L295.87,511.79 L295.70,511.34 L295.53,510.90 L295.38,510.45 L295.23,509.99 L295.10,509.54 L294.98,509.08 L294.87,508.62 L294.77,508.15 L294.68,507.69 L294.61,507.22 L294.55,506.75 L294.49,506.29 L294.45,505.81 L294.42,505.34 L294.41,504.87 L294.40,504.40" fill="none" stroke="#000" stroke-width="2.8" stroke-linecap="butt"/>
<path d="M331.53,520.33 L330.91,520.79 L330.28,521.23 L329.64,521.64 L328.98,522.04 L328.30,522.41 L327.61,522.77 L326.91,523.09 L326.19,523.40 L325.47,523.69 L324.73,523.95 L323.98,524.18 L323.23,524.39 L322.47,524.58 L321.70,524.75 L320.92,524.88 L320.15,525.00 L319.36,525.09 L318.58,525.15 L317.79,525.19 L317.00,525.20 L316.21,525.19 L315.42,525.15 L314.64,525.09 L313.85,525.00 L313.08,524.88 L312.30,524.75 L311.53,524.58 L310.77,524.39 L310.02,524.18 L309.27,523.95 L308.53,523.69 L307.81,523.40 L307.09,523.09 L306.39,522.77 L305.70,522.41 L305.02,522.04 L304.36,521.64 L303.72,521.23 L303.09,520.79 L302.47,520.33" fill="none" stroke="#ec1219" stroke-width="3.1" stroke-linecap="butt"/>
</g>
<g filter="url(#sh)"><line x1="243.4" y1="91.9" x2="203.9" y2="113.6" stroke="#000" stroke-width="4.2" stroke-linecap="round"/><path d="M196.5,117.7 L203.8,107.1 L203.9,113.6 L209.4,117.2 Z" fill="#000" stroke="#000" stroke-width="0.6" stroke-linejoin="miter"/></g>
<g filter="url(#sh)"><line x1="273.9" y1="225.3" x2="202.5" y2="274.9" stroke="#55f60c" stroke-width="3.8" stroke-linecap="round"/><path d="M195.5,279.7 L201.6,268.4 L202.5,274.9 L208.3,277.9 Z" fill="#55f60c" stroke="#55f60c" stroke-width="0.6" stroke-linejoin="miter"/></g>
<g filter="url(#sh)"><line x1="331.3" y1="274.8" x2="220.4" y2="298.9" stroke="#ec1219" stroke-width="3.8" stroke-linecap="round"/><path d="M212.1,300.7 L222.1,292.6 L220.4,298.9 L224.6,303.9 Z" fill="#ec1219" stroke="#ec1219" stroke-width="0.6" stroke-linejoin="miter"/></g>
<g filter="url(#sh)"><line x1="273.4" y1="508.7" x2="238.8" y2="530.6" stroke="#000" stroke-width="4.2" stroke-linecap="round"/><path d="M231.6,535.2 L238.2,524.1 L238.8,530.6 L244.4,533.9 Z" fill="#000" stroke="#000" stroke-width="0.6" stroke-linejoin="miter"/></g>
<g filter="url(#sh)"><line x1="293.8" y1="670.3" x2="220.8" y2="710.1" stroke="#55f60c" stroke-width="3.8" stroke-linecap="round"/><path d="M213.3,714.2 L220.6,703.6 L220.8,710.1 L226.2,713.8 Z" fill="#55f60c" stroke="#55f60c" stroke-width="0.6" stroke-linejoin="miter"/></g>
<g filter="url(#sh)"><line x1="339.5" y1="715.4" x2="238.8" y2="731.9" stroke="#ec1219" stroke-width="3.8" stroke-linecap="round"/><path d="M230.4,733.3 L240.8,725.7 L238.8,731.9 L242.7,737.2 Z" fill="#ec1219" stroke="#ec1219" stroke-width="0.6" stroke-linejoin="miter"/></g>
</svg>
</body></html>
